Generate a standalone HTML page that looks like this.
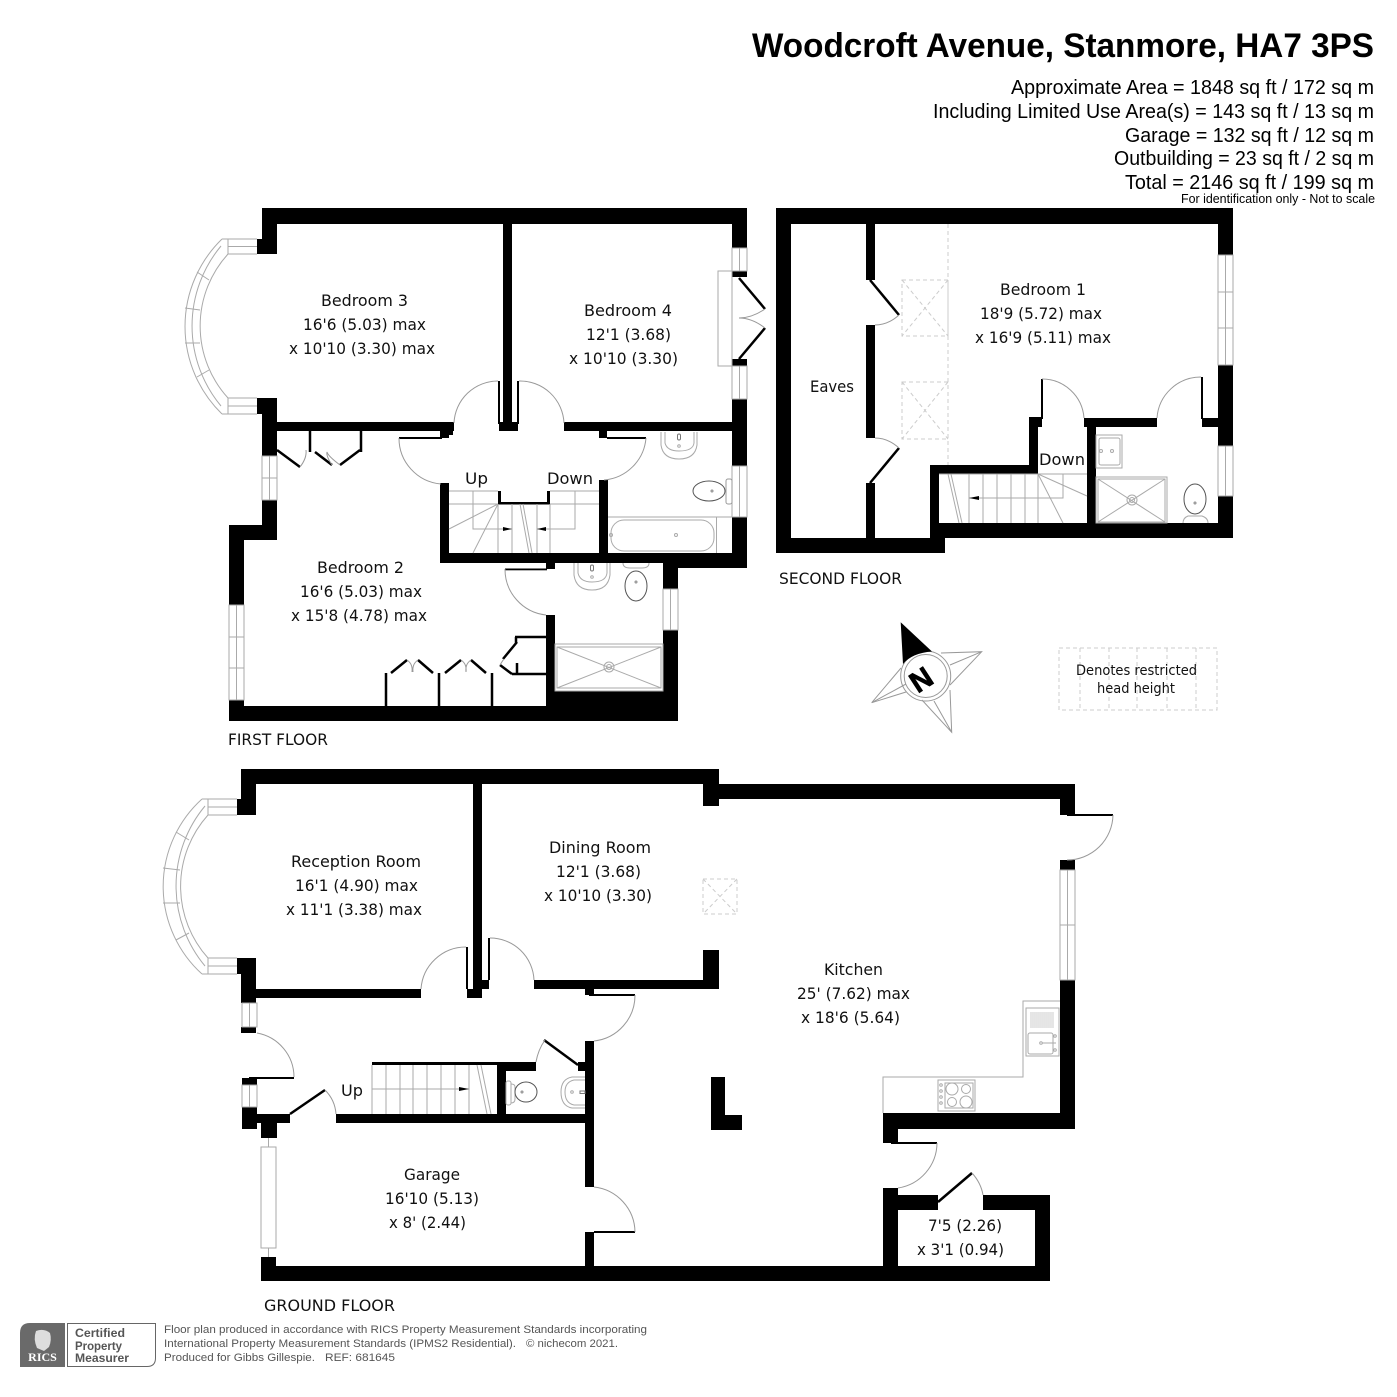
<!DOCTYPE html>
<html><head><meta charset="utf-8"><style>
html,body{margin:0;padding:0;background:#fff}
svg{display:block}
.t{font-family:"DejaVu Sans",sans-serif;font-size:16px;fill:#111}
.h{font-family:"Liberation Sans",sans-serif;fill:#000}
.g{fill:none;stroke:#999;stroke-width:1}
.l{fill:none;stroke:#aaa;stroke-width:1}
.k{fill:none;stroke:#000;stroke-width:2.5}
.d{fill:none;stroke:#ccc;stroke-width:1;stroke-dasharray:4 3}
.f{font-family:"Liberation Sans",sans-serif;font-size:11px;fill:#555}
</style></head><body>
<svg width="1397" height="1397" viewBox="0 0 1397 1397" xmlns="http://www.w3.org/2000/svg">
<rect width="1397" height="1397" fill="#fff"/>

<!-- Header -->
<text class="h" x="752" y="57" font-size="34" font-weight="bold" textLength="622" lengthAdjust="spacingAndGlyphs">Woodcroft Avenue, Stanmore, HA7 3PS</text>
<g class="h" font-size="20">
<text x="1011" y="94" textLength="363" lengthAdjust="spacingAndGlyphs">Approximate Area = 1848 sq ft / 172 sq m</text>
<text x="933" y="118" textLength="441" lengthAdjust="spacingAndGlyphs">Including Limited Use Area(s) = 143 sq ft / 13 sq m</text>
<text x="1125" y="142" textLength="249" lengthAdjust="spacingAndGlyphs">Garage = 132 sq ft / 12 sq m</text>
<text x="1114" y="165" textLength="260" lengthAdjust="spacingAndGlyphs">Outbuilding = 23 sq ft / 2 sq m</text>
<text x="1125" y="189" textLength="249" lengthAdjust="spacingAndGlyphs">Total = 2146 sq ft / 199 sq m</text>
</g>
<text class="h" x="1181" y="203" font-size="12.5" textLength="194" lengthAdjust="spacingAndGlyphs">For identification only - Not to scale</text>

<!-- Walls -->
<g fill="#000">
<!-- first floor -->
<rect x="262" y="208" width="485" height="16"/><rect x="262" y="208" width="15" height="46"/><rect x="257" y="239" width="20" height="15"/>
<rect x="257" y="398" width="20" height="16"/><rect x="262" y="398" width="15" height="58"/><rect x="277" y="422" width="177" height="9"/>
<rect x="445" y="431" width="8" height="4"/><rect x="440" y="431" width="9" height="7"/><rect x="399" y="437" width="43" height="2"/>
<rect x="440" y="483" width="9" height="80"/><rect x="440" y="553" width="307" height="10"/><rect x="663" y="553" width="84" height="15"/>
<rect x="663" y="553" width="15" height="36"/><rect x="546" y="563" width="9" height="6"/><rect x="505" y="568.5" width="42" height="1.8"/>
<rect x="546" y="615" width="9" height="76"/><rect x="546" y="691" width="132" height="30"/><rect x="229" y="706" width="449" height="15"/>
<rect x="663" y="630" width="15" height="91"/><rect x="229" y="700" width="15" height="21"/><rect x="229" y="525" width="15" height="80"/>
<rect x="229" y="525" width="48" height="15"/><rect x="262" y="500" width="15" height="40"/>
<rect x="732" y="208" width="15" height="40"/><rect x="732" y="271" width="15" height="6"/><rect x="732" y="359" width="15" height="7"/>
<rect x="732" y="399" width="15" height="67"/><rect x="732" y="517" width="15" height="51"/>
<rect x="503" y="224" width="9" height="207"/><rect x="499" y="422" width="19" height="9"/><rect x="498" y="381" width="2" height="43"/><rect x="517" y="381" width="2" height="43"/>
<rect x="564" y="422" width="168" height="9"/><rect x="599" y="431" width="8" height="7"/><rect x="607" y="437" width="39" height="2"/>
<rect x="599" y="480" width="9" height="73"/><rect x="498" y="491" width="3" height="13"/><rect x="498" y="502" width="52" height="2.5"/><rect x="547" y="491" width="3" height="13"/>
<!-- second floor -->
<rect x="776" y="208" width="457" height="16"/><rect x="776" y="208" width="15" height="345"/><rect x="776" y="538" width="169" height="15"/>
<rect x="930" y="465" width="9" height="73"/><rect x="930" y="465" width="108" height="9"/><rect x="1029" y="417" width="9" height="57"/><rect x="1029" y="417" width="13" height="10"/>
<rect x="1041" y="379" width="2" height="40"/><rect x="1084" y="418" width="73" height="9"/><rect x="1087" y="418" width="9" height="105"/><rect x="930" y="523" width="303" height="15"/>
<rect x="1201" y="377" width="2" height="42"/><rect x="1202" y="418" width="16" height="9"/><rect x="1218" y="208" width="15" height="47"/><rect x="1218" y="365" width="15" height="81"/><rect x="1218" y="496" width="15" height="42"/>
<rect x="866" y="224" width="9" height="56"/><rect x="866" y="325" width="9" height="113"/><rect x="866" y="483" width="9" height="55"/>
<!-- ground floor -->
<rect x="241" y="769" width="478" height="15"/><rect x="241" y="769" width="15" height="46"/><rect x="237" y="799" width="19" height="16"/>
<rect x="237" y="958" width="19" height="16"/><rect x="241" y="958" width="15" height="45"/><rect x="241" y="1027" width="15" height="6"/>
<rect x="256" y="989" width="165" height="9"/><rect x="473" y="784" width="9" height="214"/><rect x="467" y="989" width="15" height="9"/><rect x="482" y="980" width="7" height="9"/>
<rect x="466" y="947" width="2" height="42"/><rect x="488" y="938" width="2" height="42"/><rect x="534" y="980" width="185" height="9"/>
<rect x="703" y="769" width="16" height="37"/><rect x="703" y="950" width="16" height="39"/><rect x="719" y="784" width="356" height="15"/>
<rect x="1060" y="784" width="15" height="31"/><rect x="1067" y="814" width="46" height="2"/><rect x="1060" y="860" width="15" height="10"/><rect x="1060" y="980" width="15" height="149"/>
<rect x="883" y="1113" width="192" height="16"/><rect x="883" y="1113" width="15" height="30"/><rect x="891" y="1142" width="46" height="2"/><rect x="883" y="1188" width="15" height="93"/>
<rect x="883" y="1195" width="55" height="15"/><rect x="983" y="1195" width="67" height="15"/><rect x="1035" y="1195" width="15" height="86"/>
<rect x="261" y="1266" width="789" height="15"/><rect x="261" y="1257" width="15" height="24"/><rect x="261" y="1123" width="16" height="15"/>
<rect x="242" y="1107" width="15" height="22"/><rect x="242" y="1114" width="48" height="9"/><rect x="336" y="1114" width="258" height="9"/>
<rect x="585" y="1041" width="9" height="146"/><rect x="585" y="1232" width="9" height="34"/><rect x="594" y="1231" width="41" height="2"/>
<rect x="585" y="989" width="9" height="6"/><rect x="589" y="994" width="46" height="2"/><rect x="372" y="1062" width="164" height="3"/><rect x="497" y="1062" width="9" height="52"/><rect x="497" y="1062" width="39" height="9"/>
<rect x="578" y="1062" width="7" height="9"/><rect x="249" y="1077" width="45" height="2"/><rect x="242" y="1078" width="15" height="7"/>
<rect x="711" y="1077" width="14" height="53"/><rect x="711" y="1115" width="31" height="15"/>
</g>

<!-- Door leaves thick -->
<g class="k">
<path d="M739 278L765 309M739 359L765 328"/>
<path d="M277 450L300 467M315 452L332 465M360 450L340 465"/>
<path d="M310 431V452M361 431V452"/>
<path d="M386 673V706M439 673V706M492 673V706"/>
<path d="M391 673L407 660M433 673L418 660M445 673L461 660M486 673L471 660M500 665L512 674"/>
<path d="M515 637H546M516 637V643M517 642L503 659M517 663V674M512 674H546"/>
<path d="M870 280L899 315M870 483L899 448"/>
<path d="M290 1114L325 1090M544 1040L578 1065M938 1202L972 1173"/>
</g>

<!-- Door arcs -->
<g class="g">
<path d="M399 438A46 46 0 0 0 441 484"/>
<path d="M498 381A44 44 0 0 0 454 423M519 381A44 44 0 0 1 564 423"/>
<path d="M646 438A46 46 0 0 1 604 480"/>
<path d="M505 569A46 46 0 0 0 546 615"/>
<path d="M765 309Q752 318 739 318Q752 318 765 328"/>
<path d="M300 467Q307 458 306 450M332 465Q326 456 327 452Q328 456 340 465" />
<path d="M407 660Q413 664 412 672M418 660Q412 664 413 672M461 660Q467 664 466 672M471 660Q465 664 466 672M500 665Q503 660 504 659"/>
<path d="M899 315Q888 325 875 325M899 448Q888 438 875 438"/>
<path d="M1042 379A42 42 0 0 1 1084 418M1201 377A44 44 0 0 0 1157 418"/>
<path d="M466 947A45 45 0 0 0 421 989M490 938A44 44 0 0 1 534 980"/>
<path d="M635 995A46 46 0 0 1 594 1041"/>
<path d="M257 1033A45 45 0 0 1 294 1077"/>
<path d="M325 1090Q335 1100 336 1114M545 1040Q538 1050 536 1062"/>
<path d="M594 1187A46 46 0 0 1 635 1232"/>
<path d="M1113 815A46 46 0 0 1 1067 860"/>
<path d="M937 1143A46 46 0 0 1 898 1188"/>
<path d="M972 1173Q981 1183 983 1195"/>
</g>

<!-- Windows -->
<g class="l">
<!-- first floor bay -->
<path d="M222 239A122 122 0 0 0 222 414M221 246A125 125 0 0 0 221 406M228 254A107 107 0 0 0 228 398"/>
<path d="M222 239H257M228 246.500H257M228 254H257M228 239V254M222 414H257M228 406H257M228 398H257M228 398V414"/>
<path d="M197 272L209 280M185 308L200 310M185 343L200 343M197 377L209 370"/>
<!-- right windows first -->
<path d="M732 248H747V271H732ZM739.500 248V271M732 366H747V399H732ZM739.500 366V399M732 466H747V517H732ZM739.500 466V517"/>
<path d="M718 271H732V366H718Z"/>
<path d="M262 456H277V500H262ZM269.500 456V500M262 478H277M229 605H244V700H229ZM236.500 605V700M229 637H244M229 668H244"/>
<path d="M663 589H678V630H663ZM670.500 589V630"/>
<!-- second windows -->
<path d="M1218 255H1233V365H1218ZM1225.500 255V365M1218 292H1233M1218 328H1233M1218 446H1233V496H1218ZM1225.500 446V496"/>
<!-- ground bay -->
<path d="M202 799A118 118 0 0 0 202 974M205 806A125 125 0 0 0 205 966M208 815A107 107 0 0 0 208 958"/>
<path d="M202 799H237M208 807H237M208 815H237M208 799V815M202 974H237M208 966H237M208 958H237M208 958V974"/>
<path d="M176 832L189 840M163 868L180 870M163 903L180 903M176 940L189 933"/>
<path d="M242 1003H257V1027H242ZM249.500 1003V1027M242 1085H257V1107H242ZM249.500 1085V1107"/>
<path d="M261 1147H276V1248H261ZM268.500 1138V1147M268.500 1248V1257"/>
<path d="M1060 870H1075V980H1060ZM1067.500 870V980M1060 925H1075"/>
</g>

<!-- Stairs first -->
<g class="l">
<path d="M449 491H498M449 504H498M473 491V529H512M498 504L449 529M498 504L473 553"/>
<path d="M498 504V553M512 504V553M520 504L529 553M523 504L532 553M537 504V553M550 504V553"/>
<path d="M550 491H599M550 504H599M575 491V529H537"/>
<!-- bath -->
<path d="M608 517H732M716.500 517V553"/>
<rect x="611" y="520" width="103" height="31" rx="13"/>
<circle cx="676" cy="535" r="1.500"/><circle cx="611" cy="535" r="1.500"/>
<!-- sink up -->
<path d="M661 432V445Q663 459 679 459Q695 459 697 445V432M665 432V443Q667 451 679 451Q693 451 694 443V432"/>
<circle cx="679" cy="446" r="1.300"/>
</g>
<rect x="677.500" y="434" width="3" height="6" rx="1.500" fill="none" stroke="#777"/>
<g fill="none" stroke="#555">
<ellipse cx="709" cy="491" rx="16" ry="10"/>
<rect x="726" y="479" width="6" height="25" rx="2" stroke="#999"/>
<circle cx="712" cy="491" r="1" stroke="#888"/>
<!-- sink + toilet lower -->
<ellipse cx="636" cy="586" rx="11" ry="15"/>
<circle cx="636" cy="582" r="1" stroke="#888"/>
</g>
<g class="l">
<path d="M623 563Q623 568 630 568H642Q649 568 649 563"/>
<path d="M574 563V575Q576 590 592 590Q608 590 610 575V563M578 563V573Q580 582 592 582Q606 582 607 573V563"/>
<circle cx="592" cy="577" r="1.300"/>
</g>
<rect x="590.500" y="565" width="3" height="6" rx="1.500" fill="none" stroke="#777"/>
<!-- shower first -->
<g class="l">
<rect x="555" y="644" width="108" height="47"/>
<rect x="557" y="647" width="104" height="41"/>
<path d="M557 647L661 688M661 647L557 688"/>
<circle cx="609" cy="667" r="5"/><circle cx="609" cy="667" r="2.500"/>
</g>

<!-- Second floor details -->
<g class="d">
<path d="M948 224V465"/>
<rect x="902" y="280" width="46" height="56"/><path d="M902 280L948 336M948 280L902 336"/>
<rect x="902" y="382" width="46" height="57"/><path d="M902 382L948 439M948 382L902 439"/>
<rect x="703" y="879" width="34" height="35"/><path d="M703 879L737 914M737 879L703 914"/>
</g>
<g class="l">
<path d="M939 474H1038M1038 474H1087M1063 474V498H969"/>
<path d="M969 474V523M983 474V523M997 474V523M1011 474V523M1025 474V523M1038 474V523"/>
<path d="M948 474L959 523M951 474L962 523"/>
<path d="M1038 474L1087 496M1038 474L1063 523"/>
<rect x="1096" y="435" width="26" height="33"/><rect x="1099" y="438" width="21" height="27" rx="2"/>
<circle cx="1101" cy="451" r="1.500"/><circle cx="1112" cy="451" r="1.500"/>
<rect x="1096" y="477" width="71" height="46"/><rect x="1098" y="479" width="67" height="43"/>
<path d="M1098 479L1165 522M1165 479L1098 522"/><circle cx="1132" cy="500" r="5"/><circle cx="1132" cy="500" r="2.500"/>
<path d="M1183 523Q1183 518 1188 516H1202Q1208 518 1208 523"/>
</g>
<ellipse cx="1195" cy="499" rx="11" ry="15" fill="none" stroke="#555"/>
<circle cx="1195" cy="503" r="1" fill="none" stroke="#888"/>

<!-- Ground stairs -->
<g class="l">
<path d="M372 1065V1114M386 1065V1114M400 1065V1114M413 1065V1114M427 1065V1114M441 1065V1114M455 1065V1114M469 1065V1114"/>
<path d="M477 1065L487 1114M481 1065L491 1114M372 1089H469"/>
<!-- wc -->
<rect x="506" y="1081" width="5" height="24" rx="2"/>
<path d="M511 1084Q515 1084 515 1087V1099Q515 1103 511 1103"/>
<path d="M585 1077H572Q561 1079 561 1092Q561 1106 572 1108H585M585 1080H574Q565 1082 565 1092Q565 1103 574 1105H585"/>
<circle cx="572" cy="1092" r="1.300"/>
</g>
<ellipse cx="526" cy="1092" rx="11" ry="10" fill="none" stroke="#555"/>
<circle cx="522" cy="1092" r="1" fill="none" stroke="#888"/>
<rect x="580" y="1091" width="5" height="2.500" fill="none" stroke="#777"/>

<!-- arrowheads -->
<g fill="#000">
<path d="M512 529L503 527V531Z"/><path d="M537 529L546 527V531Z"/>
<path d="M969 498L979 496V500Z"/><path d="M469 1089L459 1087V1091Z"/>
</g>

<!-- Kitchen counter -->
<g class="l">
<path d="M883 1113V1077H1023V1001H1060"/>
<rect x="1026" y="1008" width="33" height="48"/>
<rect x="1028" y="1033" width="25" height="21" rx="2"/>
<path stroke-width="0.600" d="M1031 1012V1028M1033 1012V1028M1035 1012V1028M1037 1012V1028M1039 1012V1028M1041 1012V1028M1043 1012V1028M1045 1012V1028M1047 1012V1028M1049 1012V1028M1051 1012V1028M1053 1012V1028"/>
<path d="M1042 1043H1056"/><circle cx="1041" cy="1043" r="1.300"/><circle cx="1055" cy="1036" r="1.300"/><circle cx="1055" cy="1050" r="1.300"/>
<rect x="938" y="1080" width="37" height="31"/>
<rect x="945" y="1083" width="28" height="25"/>
<circle cx="952" cy="1089" r="6"/><circle cx="966" cy="1089" r="4.500"/><circle cx="952" cy="1102" r="4.500"/><circle cx="966" cy="1102" r="6"/>
<circle cx="941" cy="1085" r="1.300"/><circle cx="941" cy="1091" r="1.300"/><circle cx="941" cy="1097" r="1.300"/><circle cx="941" cy="1103" r="1.300"/>
</g>

<!-- Compass -->
<g>
<g class="g">
<path d="M906 684L871.700 702.700L901 668"/><path d="M871.700 702.700L906 692"/>
<path d="M922 700L951.700 732.300L950 690M934 701L951.700 732.300"/>
<path d="M941 653L981.700 651.700L950 685M950 665L981.700 651.700"/>
<circle cx="925.700" cy="676" r="25"/><circle cx="925.700" cy="676" r="21.500"/>
</g>
<path d="M900.700 622.300L903 664Q912 653 932 651.500Z" fill="#000"/>
<text class="h" font-size="29" font-weight="bold" text-anchor="middle" stroke="#000" stroke-width="0.800" transform="translate(926.500,688) rotate(-33)">N</text>
</g>

<!-- restricted -->
<g class="d">
<rect x="1059" y="648" width="158" height="62"/>
<path d="M1080 648V710M1109 648V710M1137 648V710M1167 648V710M1196 648V710"/>
</g>

<!-- Labels -->
<g class="t">
<text x="321" y="306" textLength="87" lengthAdjust="spacingAndGlyphs">Bedroom 3</text>
<text x="303" y="330" textLength="123" lengthAdjust="spacingAndGlyphs">16'6 (5.03) max</text>
<text x="289" y="354" textLength="146" lengthAdjust="spacingAndGlyphs">x 10'10 (3.30) max</text>
<text x="584" y="316" textLength="88" lengthAdjust="spacingAndGlyphs">Bedroom 4</text>
<text x="586" y="340" textLength="85" lengthAdjust="spacingAndGlyphs">12'1 (3.68)</text>
<text x="569" y="364" textLength="109" lengthAdjust="spacingAndGlyphs">x 10'10 (3.30)</text>
<text x="317" y="573" textLength="87" lengthAdjust="spacingAndGlyphs">Bedroom 2</text>
<text x="300" y="597" textLength="122" lengthAdjust="spacingAndGlyphs">16'6 (5.03) max</text>
<text x="291" y="621" textLength="136" lengthAdjust="spacingAndGlyphs">x 15'8 (4.78) max</text>
<text x="465" y="484" textLength="23" lengthAdjust="spacingAndGlyphs">Up</text>
<text x="547" y="484" textLength="46" lengthAdjust="spacingAndGlyphs">Down</text>
<text x="1000" y="295" textLength="86" lengthAdjust="spacingAndGlyphs">Bedroom 1</text>
<text x="980" y="319" textLength="122" lengthAdjust="spacingAndGlyphs">18'9 (5.72) max</text>
<text x="975" y="343" textLength="136" lengthAdjust="spacingAndGlyphs">x 16'9 (5.11) max</text>
<text x="810" y="392" textLength="44" lengthAdjust="spacingAndGlyphs">Eaves</text>
<text x="1039" y="465" textLength="46" lengthAdjust="spacingAndGlyphs">Down</text>
<text x="779" y="584" textLength="123" lengthAdjust="spacingAndGlyphs">SECOND FLOOR</text>
<text x="228" y="745" textLength="100" lengthAdjust="spacingAndGlyphs">FIRST FLOOR</text>
<text x="264" y="1311" textLength="131" lengthAdjust="spacingAndGlyphs">GROUND FLOOR</text>
<text x="1076" y="675" font-size="14.500" textLength="121" lengthAdjust="spacingAndGlyphs">Denotes restricted</text>
<text x="1097" y="693" font-size="14.500" textLength="78" lengthAdjust="spacingAndGlyphs">head height</text>
<text x="291" y="867" textLength="130" lengthAdjust="spacingAndGlyphs">Reception Room</text>
<text x="295" y="891" textLength="123" lengthAdjust="spacingAndGlyphs">16'1 (4.90) max</text>
<text x="286" y="915" textLength="136" lengthAdjust="spacingAndGlyphs">x 11'1 (3.38) max</text>
<text x="549" y="853" textLength="102" lengthAdjust="spacingAndGlyphs">Dining Room</text>
<text x="556" y="877" textLength="85" lengthAdjust="spacingAndGlyphs">12'1 (3.68)</text>
<text x="544" y="901" textLength="108" lengthAdjust="spacingAndGlyphs">x 10'10 (3.30)</text>
<text x="824" y="975" textLength="59" lengthAdjust="spacingAndGlyphs">Kitchen</text>
<text x="797" y="999" textLength="113" lengthAdjust="spacingAndGlyphs">25' (7.62) max</text>
<text x="801" y="1023" textLength="99" lengthAdjust="spacingAndGlyphs">x 18'6 (5.64)</text>
<text x="341" y="1096" textLength="22" lengthAdjust="spacingAndGlyphs">Up</text>
<text x="404" y="1180" textLength="56" lengthAdjust="spacingAndGlyphs">Garage</text>
<text x="385" y="1204" textLength="94" lengthAdjust="spacingAndGlyphs">16'10 (5.13)</text>
<text x="389" y="1228" textLength="77" lengthAdjust="spacingAndGlyphs">x 8' (2.44)</text>
<text x="928" y="1231" textLength="74" lengthAdjust="spacingAndGlyphs">7'5 (2.26)</text>
<text x="917" y="1255" textLength="87" lengthAdjust="spacingAndGlyphs">x 3'1 (0.94)</text>
</g>

<!-- Footer -->
<path d="M20 1333Q20 1323 30 1323H65V1367H20Z" fill="#6a6a6a"/>
<path d="M67.500 1323.500H155.500V1358Q155.500 1366.500 147 1366.500H67.500Z" fill="#fff" stroke="#666"/>
<path d="M36 1331Q44 1328 50 1333Q52 1340 49 1347L44 1351L37 1348Q33 1339 36 1331Z" fill="#ddd"/>
<text x="42.500" y="1361" font-family="Liberation Serif,serif" font-weight="bold" font-size="12" fill="#fff" text-anchor="middle">RICS</text>
<g class="h" font-weight="bold" font-size="12" style="fill:#555">
<text x="75" y="1337" textLength="50" lengthAdjust="spacingAndGlyphs">Certified</text>
<text x="75" y="1350" textLength="47" lengthAdjust="spacingAndGlyphs">Property</text>
<text x="75" y="1362" textLength="54" lengthAdjust="spacingAndGlyphs">Measurer</text>
</g>
<text class="f" x="164" y="1333" textLength="483" lengthAdjust="spacingAndGlyphs">Floor plan produced in accordance with RICS Property Measurement Standards incorporating</text>
<text class="f" x="164" y="1347" textLength="352" lengthAdjust="spacingAndGlyphs">International Property Measurement Standards (IPMS2 Residential).</text>
<text class="f" x="526" y="1347" textLength="92" lengthAdjust="spacingAndGlyphs">© nichecom 2021.</text>
<text class="f" x="164" y="1361" textLength="151" lengthAdjust="spacingAndGlyphs">Produced for Gibbs Gillespie.</text>
<text class="f" x="325" y="1361" textLength="70" lengthAdjust="spacingAndGlyphs">REF:  681645</text>
</svg>
</body></html>
